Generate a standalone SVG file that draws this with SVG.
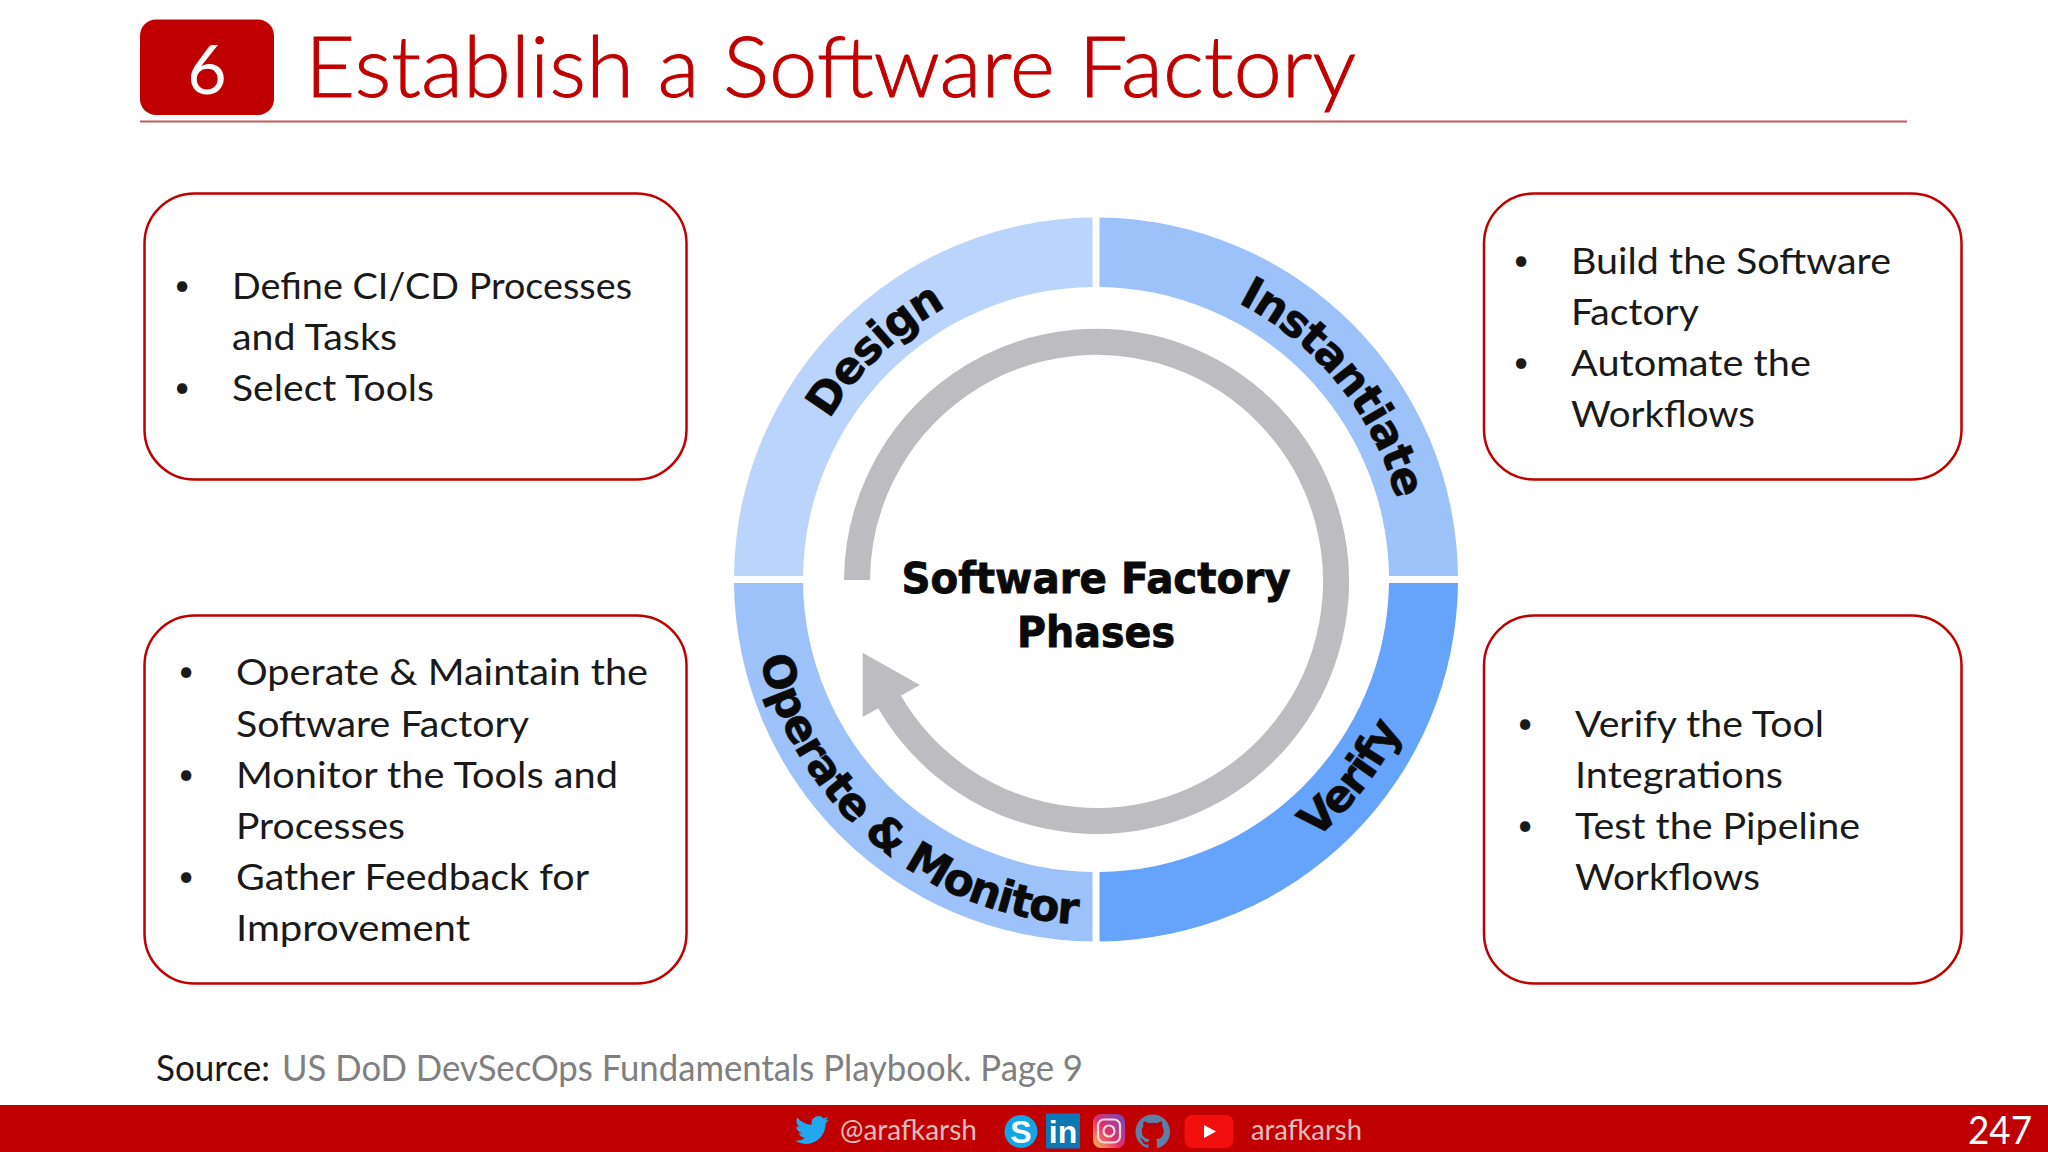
<svg xmlns="http://www.w3.org/2000/svg" width="2048" height="1152" viewBox="0 0 2048 1152">
<style>
.t{font-family:"Lato","Carlito","Noto Sans",sans-serif;font-size:37px;fill:#1a1a1a}
.b{font-family:"Lato","Noto Sans",sans-serif;font-size:28px;fill:#1a1a1a;text-anchor:middle}
.title{font-family:"Lato","Noto Sans",sans-serif;font-weight:300;font-size:84px;fill:#c00000;stroke:#c00000;stroke-width:.9}
.box{fill:#fff;stroke:#c00000;stroke-width:2.5}
.rl{font-family:"DejaVu Sans",sans-serif;font-weight:700;font-size:44px;letter-spacing:-1.2px;fill:#0a0a0a;stroke:#0a0a0a;stroke-width:.7}
.ct{font-family:"DejaVu Sans",sans-serif;font-weight:700;font-size:43px;fill:#0a0a0a;stroke:#0a0a0a;stroke-width:.9;text-anchor:middle}
.ft{font-family:"Lato","Noto Sans",sans-serif;font-size:28px;fill:#e6bcbc}
</style>
<defs>
<path id="pDesign" d="M794.2 654.7 A311 311 0 0 1 1181.7 280.5"/>
<path id="pInst" d="M1047.4 272.3 A311 311 0 0 1 1386.3 691"/>
<path id="pVerify" d="M1048.7 916.2 A340 340 0 0 0 1411.2 452.1"/>
<path id="pOperate" d="M797.2 407 A345 345 0 0 0 1317.8 843.8"/>
<linearGradient id="ig" x1="0" y1="1" x2="1" y2="0"><stop offset="0" stop-color="#fdc05a"/><stop offset=".45" stop-color="#e1306c"/><stop offset="1" stop-color="#6a4bc4"/></linearGradient>
</defs>
<rect width="2048" height="1152" fill="#fff"/>
<g id="header">
<rect x="140" y="19.5" width="134" height="95.5" rx="16" fill="#c00000"/>
<text x="207" y="94" text-anchor="middle" style="font-family:Lato,sans-serif;font-weight:400;font-size:68px;fill:#fff">6</text>
<text class="title" x="305" y="97" textLength="1051" lengthAdjust="spacingAndGlyphs">Establish a Software Factory</text>
<line x1="140" y1="121.5" x2="1907" y2="121.5" stroke="#c9595a" stroke-width="2"/>
</g>
<g id="box-design">
<rect class="box" x="144.5" y="193.5" width="542" height="286" rx="50"/>
<text class="b" x="182" y="295">•</text>
<text class="t" x="232" y="299" textLength="400" lengthAdjust="spacingAndGlyphs">Define CI/CD Processes</text>
<text class="t" x="232" y="350" textLength="165" lengthAdjust="spacingAndGlyphs">and Tasks</text>
<text class="b" x="182" y="397">•</text>
<text class="t" x="232" y="401" textLength="202" lengthAdjust="spacingAndGlyphs">Select Tools</text>
</g>
<g id="box-instantiate">
<rect class="box" x="1484" y="193.5" width="477.5" height="286" rx="50"/>
<text class="b" x="1521" y="270">•</text>
<text class="t" x="1571" y="274" textLength="320" lengthAdjust="spacingAndGlyphs">Build the Software</text>
<text class="t" x="1571" y="325" textLength="128" lengthAdjust="spacingAndGlyphs">Factory</text>
<text class="b" x="1521" y="372">•</text>
<text class="t" x="1571" y="376" textLength="240" lengthAdjust="spacingAndGlyphs">Automate the</text>
<text class="t" x="1571" y="427" textLength="184" lengthAdjust="spacingAndGlyphs">Workflows</text>
</g>
<g id="box-operate">
<rect class="box" x="144.5" y="615.5" width="542" height="368" rx="50"/>
<text class="b" x="186" y="681">•</text>
<text class="t" x="236" y="685" textLength="412" lengthAdjust="spacingAndGlyphs">Operate &amp; Maintain the</text>
<text class="t" x="236" y="736.500" textLength="293" lengthAdjust="spacingAndGlyphs">Software Factory</text>
<text class="b" x="186" y="784">•</text>
<text class="t" x="236" y="788" textLength="382" lengthAdjust="spacingAndGlyphs">Monitor the Tools and</text>
<text class="t" x="236" y="839" textLength="169" lengthAdjust="spacingAndGlyphs">Processes</text>
<text class="b" x="186" y="886">•</text>
<text class="t" x="236" y="890" textLength="353" lengthAdjust="spacingAndGlyphs">Gather Feedback for</text>
<text class="t" x="236" y="941" textLength="234" lengthAdjust="spacingAndGlyphs">Improvement</text>
</g>
<g id="box-verify">
<rect class="box" x="1484" y="615.5" width="477.5" height="368" rx="50"/>
<text class="b" x="1525" y="733">•</text>
<text class="t" x="1575" y="737" textLength="249" lengthAdjust="spacingAndGlyphs">Verify the Tool</text>
<text class="t" x="1575" y="788" textLength="208" lengthAdjust="spacingAndGlyphs">Integrations</text>
<text class="b" x="1525" y="835">•</text>
<text class="t" x="1575" y="839" textLength="285" lengthAdjust="spacingAndGlyphs">Test the Pipeline</text>
<text class="t" x="1575" y="890" textLength="185" lengthAdjust="spacingAndGlyphs">Workflows</text>
</g>
<g id="ring">
<path id="seg-design" fill="#bad4fb" d="M734 576 A362 362 0 0 1 1092.5 217.5 V287 A293 293 0 0 0 803 576 Z"/>
<path id="seg-instantiate" fill="#9cc2f9" d="M1099.5 217.5 A362 362 0 0 1 1458 576 H1389 A293 293 0 0 0 1099.5 287 Z"/>
<path id="seg-verify" fill="#66a3fb" d="M1458 583 A362 362 0 0 1 1099.5 941.5 V872 A293 293 0 0 0 1389 583 Z"/>
<path id="seg-operate" fill="#9cc2f9" d="M1092.5 941.5 A362 362 0 0 1 734 583 H803 A293 293 0 0 0 1092.5 872 Z"/>
<text class="rl"><textPath href="#pDesign" startOffset="50%" text-anchor="middle">Design</textPath></text>
<text class="rl"><textPath href="#pInst" startOffset="50%" text-anchor="middle">Instantiate</textPath></text>
<text class="rl"><textPath href="#pVerify" startOffset="50%" text-anchor="middle">Verify</textPath></text>
<text class="rl"><textPath href="#pOperate" startOffset="50%" text-anchor="middle">Operate &amp; Monitor</textPath></text>
</g>
<g id="center-label">
<text class="ct" x="1096" y="593" textLength="389" lengthAdjust="spacingAndGlyphs">Software Factory</text>
<text class="ct" x="1096" y="647" textLength="158" lengthAdjust="spacingAndGlyphs">Phases</text>
</g>
<g id="connectors">
<path d="M857 580 A239.5 239.5 0 1 1 889 701" fill="none" stroke="#bdbcc0" stroke-width="26"/>
<polygon points="862.7,652.7 919.9,685 862.7,717" fill="#bdbcc0"/>
</g>
<g id="source">
<text class="t" x="156" y="1081" textLength="114" lengthAdjust="spacingAndGlyphs">Source:</text>
<text class="t" x="282" y="1081" textLength="801" lengthAdjust="spacingAndGlyphs" style="fill:#808080">US DoD DevSecOps Fundamentals Playbook. Page 9</text>
</g>
<g id="footer">
<rect y="1105" width="2048" height="47" fill="#c00000"/>
<path id="twitter" transform="translate(795 1113) scale(1.42)" fill="#22a8ee" d="M23.953 4.57a10 10 0 01-2.825.775 4.958 4.958 0 002.163-2.723c-.951.555-2.005.959-3.127 1.184a4.92 4.92 0 00-8.384 4.482C7.69 8.095 4.067 6.13 1.64 3.162a4.822 4.822 0 00-.666 2.475c0 1.71.87 3.213 2.188 4.096a4.904 4.904 0 01-2.228-.616v.06a4.923 4.923 0 003.946 4.827 4.996 4.996 0 01-2.212.085 4.936 4.936 0 004.604 3.417 9.867 9.867 0 01-6.102 2.105c-.39 0-.779-.023-1.17-.067a13.995 13.995 0 007.557 2.209c9.053 0 13.998-7.496 13.998-13.985 0-.21 0-.42-.015-.63A9.935 9.935 0 0024 4.59z"/>
<text class="ft" x="840" y="1140" textLength="137" lengthAdjust="spacingAndGlyphs">@arafkarsh</text>
<g id="skype"><circle cx="1021" cy="1131.5" r="16.5" fill="#13a5e6"/><text x="1021" y="1143" text-anchor="middle" style="font-family:'Liberation Sans',sans-serif;font-weight:700;font-size:32px;fill:#fff">S</text></g>
<g id="linkedin"><rect x="1046" y="1113.5" width="34" height="35" fill="#0b77b5"/><text x="1063" y="1143" text-anchor="middle" style="font-family:'Liberation Sans',sans-serif;font-weight:700;font-size:32px;fill:#fff">in</text></g>
<g id="instagram"><rect x="1093" y="1114" width="32" height="34" rx="8" fill="url(#ig)"/><rect x="1098" y="1119.5" width="22" height="23" rx="6" fill="none" stroke="#f5dcdc" stroke-width="2.2"/><circle cx="1109" cy="1131" r="5.5" fill="none" stroke="#f5dcdc" stroke-width="2.2"/></g>
<path id="github" transform="translate(1135.5 1114) scale(1.44)" fill="#5d7fa8" d="M12 .297c-6.63 0-12 5.373-12 12 0 5.303 3.438 9.8 8.205 11.385.6.113.82-.258.82-.577 0-.285-.01-1.04-.015-2.04-3.338.724-4.042-1.61-4.042-1.61C4.422 18.07 3.633 17.7 3.633 17.7c-1.087-.744.084-.729.084-.729 1.205.084 1.838 1.236 1.838 1.236 1.07 1.835 2.809 1.305 3.495.998.108-.776.417-1.305.76-1.605-2.665-.3-5.466-1.332-5.466-5.93 0-1.31.465-2.38 1.235-3.22-.135-.303-.54-1.523.105-3.176 0 0 1.005-.322 3.3 1.23.96-.267 1.98-.399 3-.405 1.02.006 2.04.138 3 .405 2.28-1.552 3.285-1.23 3.285-1.23.645 1.653.24 2.873.12 3.176.765.84 1.23 1.91 1.23 3.22 0 4.61-2.805 5.625-5.475 5.92.42.36.81 1.096.81 2.22 0 1.606-.015 2.896-.015 3.286 0 .315.21.69.825.57C20.565 22.092 24 17.592 24 12.297c0-6.627-5.373-12-12-12"/>
<g id="youtube"><rect x="1184.5" y="1115" width="49" height="33" rx="8" fill="#f40f0f"/><polygon points="1204,1125 1204,1138 1216,1131.5" fill="#fff"/></g>
<text class="ft" x="1251" y="1140" textLength="111" lengthAdjust="spacingAndGlyphs">arafkarsh</text>
<text x="1968" y="1144" textLength="64" lengthAdjust="spacingAndGlyphs" style="font-family:Lato,sans-serif;font-size:38px;fill:#fff">247</text>
</g>
</svg>
